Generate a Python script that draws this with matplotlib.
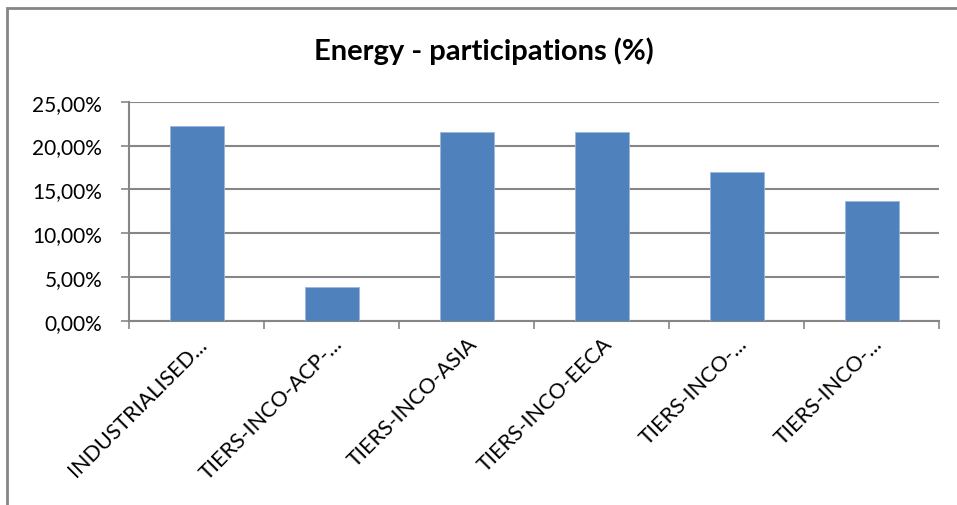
import matplotlib
matplotlib.use("Agg")
import matplotlib.pyplot as plt
from matplotlib.patches import Rectangle
from matplotlib.ticker import FuncFormatter, FixedLocator

categories = [
    "INDUSTRIALISED...",
    "TIERS-INCO-ACP-...",
    "TIERS-INCO-ASIA",
    "TIERS-INCO-EECA",
    "TIERS-INCO-...",
    "TIERS-INCO-...",
]
participations = [22.23, 3.85, 21.58, 21.58, 17.00, 13.66]
y_ticks = [0, 5, 10, 15, 20, 25]

plt.rcParams["font.family"] = ["Lato", "DejaVu Sans"]

W, H = 957, 506
fig = plt.figure(figsize=(W / 100, H / 100), dpi=100)
fig.patch.set_facecolor("white")

ax = fig.add_axes([129.3 / W, 1 - 321.7 / H, (939 - 129.3) / W, (321.7 - 102.7) / H])

bar_color = "#4F81BD"
grid_color = "#868686"
x = list(range(len(categories)))
ax.bar(x, participations, width=0.4, color=bar_color, edgecolor="#9BB7DA",
       linewidth=0.6, zorder=3)

ax.set_xlim(-0.5, len(categories) - 0.5)
ax.set_ylim(0, 25)

# horizontal gridlines
ax.yaxis.set_major_locator(FixedLocator(y_ticks))
ax.yaxis.set_major_formatter(FuncFormatter(lambda v, p: f"{v:.2f}%".replace(".", ",")))
ax.grid(axis="y", color=grid_color, linewidth=1.5, zorder=0)
ax.tick_params(axis="y", length=5.5, width=1.2, color=grid_color, pad=14,
               labelsize=15, labelcolor="black")

# category boundaries as ticks, labels at centres
ax.set_xticks([i - 0.5 for i in range(len(categories) + 1)])
ax.set_xticklabels([])
ax.tick_params(axis="x", which="major", length=6, width=1.2, color=grid_color)
ax.set_xticks(x, minor=True)
ax.set_xticklabels(categories, minor=True, rotation=45, ha="right",
                   rotation_mode="anchor", fontsize=15.5)
ax.tick_params(axis="x", which="minor", length=0, pad=9)

for side in ["top", "right"]:
    ax.spines[side].set_visible(False)
ax.spines["left"].set_color(grid_color)
ax.spines["left"].set_linewidth(1.5)
ax.spines["bottom"].set_color(grid_color)
ax.spines["bottom"].set_linewidth(1.5)

fig.text(484 / W, 1 - 51 / H, "Energy - participations (%)", ha="center",
         va="center", fontsize=21, fontweight="bold")

# chart frame
fig.add_artist(Rectangle((7.5 / W, -0.05), 1.2, 1 - 9 / H + 0.05,
                         transform=fig.transFigure, fill=False,
                         edgecolor=grid_color, linewidth=2))

fig.savefig("out.png", dpi=100)
